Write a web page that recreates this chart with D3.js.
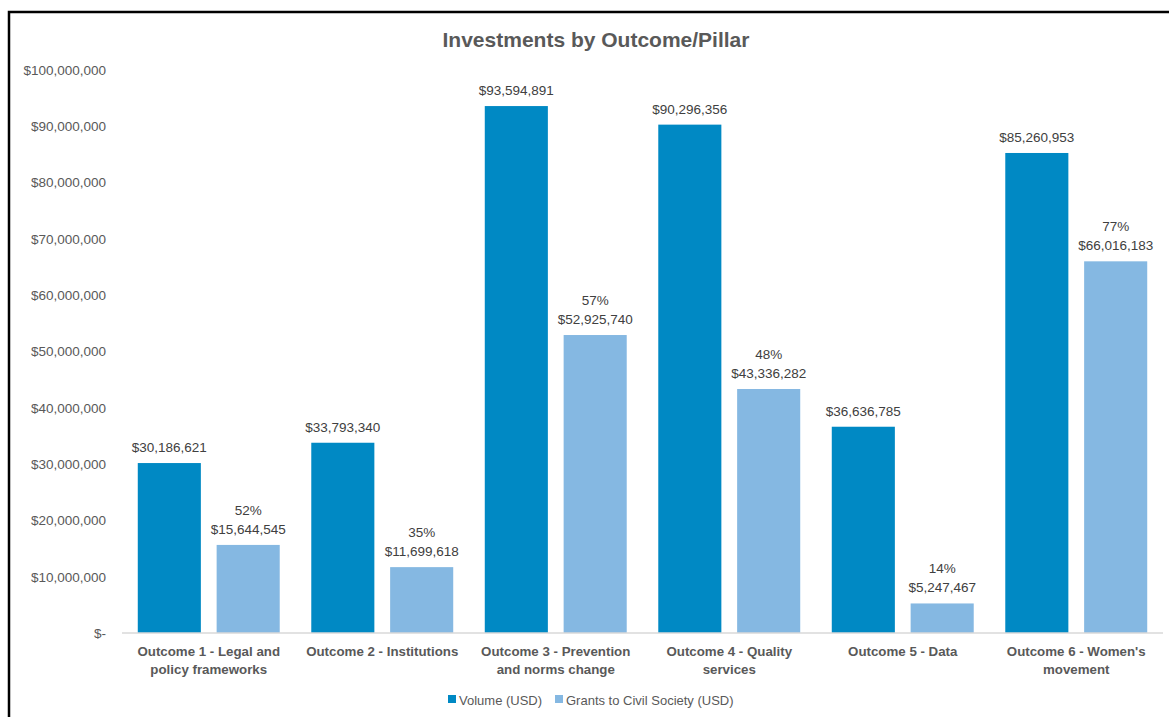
<!DOCTYPE html>
<html>
<head>
<meta charset="utf-8">
<script src="https://cdn.jsdelivr.net/npm/d3@7"></script>
<style>
  html, body { margin: 0; padding: 0; background: #fff; }
  svg { display: block; font-family: "Liberation Sans", Arial, sans-serif; }
</style>
</head>
<body>
<svg id="chart" width="1169" height="717"></svg>
<script>
// Outcome categories (two-line labels)
const categories = [
  ["Outcome 1 - Legal and", "policy frameworks"],
  ["Outcome 2 - Institutions"],
  ["Outcome 3 - Prevention", "and norms change"],
  ["Outcome 4 - Quality", "services"],
  ["Outcome 5 - Data"],
  ["Outcome 6 - Women's", "movement"]
];
const volume = [30186621, 33793340, 93594891, 90296356, 36636785, 85260953];
const grants = [15644545, 11699618, 52925740, 43336282, 5247467, 66016183];
const seriesNames = ["Volume (USD)", "Grants to Civil Society (USD)"];
const yTicks = [0, 10000000, 20000000, 30000000, 40000000, 50000000, 60000000, 70000000, 80000000, 90000000, 100000000];

const colors = ["#0089c4", "#85b8e2"];
const textColor = "#595959";

const svg = d3.select("#chart");

// Frame (left and top edges)
svg.append("path")
  .attr("d", "M9,717 V12 H1169")
  .attr("fill", "none")
  .attr("stroke", "#000")
  .attr("stroke-width", 2.5);

const plot = { left: 122, right: 1163, top: 70, bottom: 633 };

const x0 = d3.scaleBand()
  .domain(d3.range(categories.length))
  .range([plot.left, plot.right])
  .paddingInner(0)
  .paddingOuter(0);

const x1 = d3.scaleBand()
  .domain([0, 1])
  .range([0, x0.bandwidth()])
  .paddingInner(0.2)
  .paddingOuter(0.2);

const y = d3.scaleLinear()
  .domain([0, 100000000])
  .range([plot.bottom, plot.top]);

const fmtMoney = d3.format("$,.0f");

// Title
svg.append("text")
  .attr("x", 596).attr("y", 47)
  .attr("text-anchor", "middle")
  .attr("font-size", 21).attr("font-weight", "bold")
  .attr("fill", textColor)
  .text("Investments by Outcome/Pillar");

// Y axis labels
const yAxis = d3.axisLeft(y)
  .tickValues(yTicks)
  .tickSize(0)
  .tickPadding(0)
  .tickFormat(d => d === 0 ? "$-" : fmtMoney(d));

const yg = svg.append("g")
  .attr("transform", `translate(106,0)`)
  .call(yAxis);
yg.select(".domain").remove();
yg.selectAll("text")
  .attr("font-size", 13.5)
  .attr("fill", textColor)
  .attr("font-family", "Liberation Sans, Arial, sans-serif");

// Bars
const groups = svg.append("g").selectAll("g")
  .data(categories.map((c, i) => i))
  .join("g")
  .attr("transform", i => `translate(${x0(i)},0)`);

groups.append("rect")
  .attr("x", x1(0))
  .attr("width", x1.bandwidth())
  .attr("y", i => y(volume[i]))
  .attr("height", i => y(0) - y(volume[i]))
  .attr("fill", colors[0]);

groups.append("rect")
  .attr("x", x1(1))
  .attr("width", x1.bandwidth())
  .attr("y", i => y(grants[i]))
  .attr("height", i => y(0) - y(grants[i]))
  .attr("fill", colors[1]);

// Data labels
groups.append("text")
  .attr("x", x1(0) + x1.bandwidth() / 2)
  .attr("y", i => y(volume[i]) - 11)
  .attr("text-anchor", "middle")
  .attr("font-size", 13.5)
  .attr("fill", "#404040")
  .text(i => fmtMoney(volume[i]));

groups.append("text")
  .attr("x", x1(1) + x1.bandwidth() / 2)
  .attr("y", i => y(grants[i]) - 11)
  .attr("text-anchor", "middle")
  .attr("font-size", 13.5)
  .attr("fill", "#404040")
  .text(i => fmtMoney(grants[i]));

groups.append("text")
  .attr("x", x1(1) + x1.bandwidth() / 2)
  .attr("y", i => y(grants[i]) - 30)
  .attr("text-anchor", "middle")
  .attr("font-size", 13.5)
  .attr("fill", "#404040")
  .text(i => Math.round(grants[i] / volume[i] * 100) + "%");

// Baseline
svg.append("line")
  .attr("x1", plot.left).attr("x2", plot.right)
  .attr("y1", y(0)).attr("y2", y(0))
  .attr("stroke", "#d9d9d9").attr("stroke-width", 1.5);

// Category labels
const xl = groups.append("text")
  .attr("text-anchor", "middle")
  .attr("font-size", 13.3)
  .attr("font-weight", "bold")
  .attr("fill", textColor);
xl.selectAll("tspan")
  .data(i => categories[i])
  .join("tspan")
  .attr("x", x0.bandwidth() / 2)
  .attr("y", (d, j) => 656 + j * 18)
  .text(d => d);

// Legend
const legendItems = [{ x: 448, name: seriesNames[0], c: colors[0] }, { x: 555, name: seriesNames[1], c: colors[1] }];
const lg = svg.append("g").selectAll("g").data(legendItems).join("g");
lg.append("rect")
  .attr("x", d => d.x).attr("y", 695)
  .attr("width", 8).attr("height", 8)
  .attr("fill", d => d.c);
lg.append("text")
  .attr("x", d => d.x + 11).attr("y", 704.5)
  .attr("font-size", 13)
  .attr("fill", textColor)
  .text(d => d.name);
</script>
</body>
</html>
